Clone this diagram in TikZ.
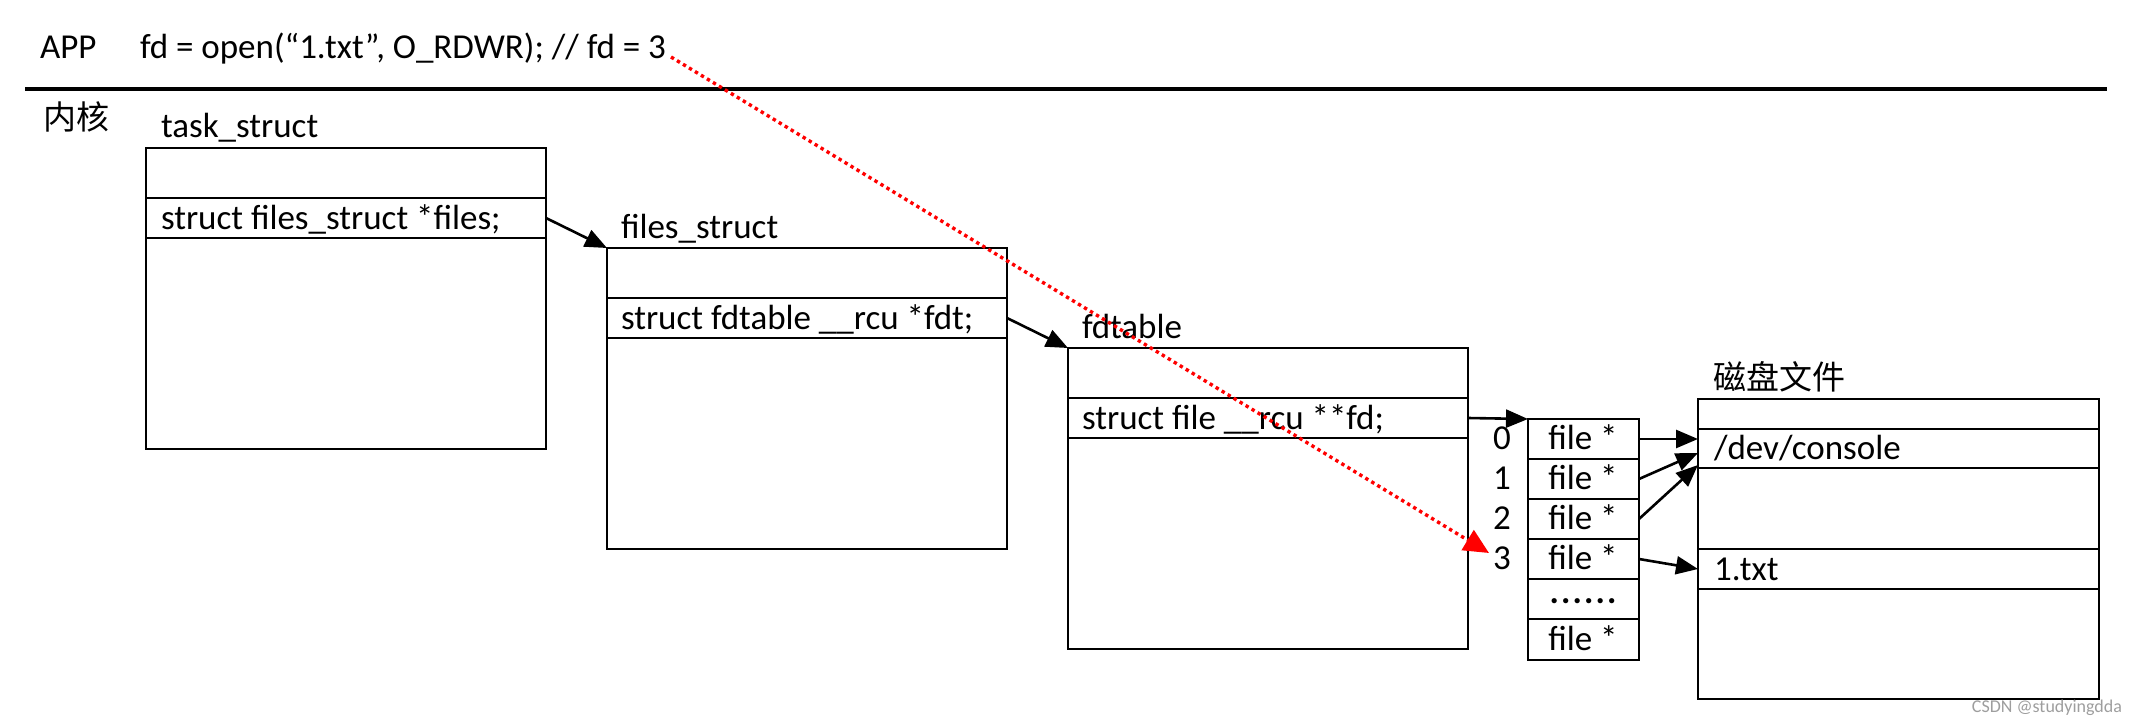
\documentclass[tikz,border=0pt]{standalone}
\usepackage{fontspec}
\setmainfont{Carlito}
\newfontfamily\cjk{Noto Sans CJK SC}
\usetikzlibrary{arrows.meta,calc}
\begin{document}
\begin{tikzpicture}[x=1pt,y=-1pt,
  every node/.style={inner sep=0pt,outer sep=0pt},
  cell/.style={draw=black,line width=2.6pt,rectangle,anchor=north west,minimum width=400pt},
  fcell/.style={draw=black,line width=2.6pt,rectangle,anchor=north west,minimum width=111pt,minimum height=40pt},
  txt/.style={font=\fontsize{35}{35}\selectfont,anchor=base west},
  ctxt/.style={font=\fontsize{35}{35}\selectfont,anchor=base},
  cjktxt/.style={font=\cjk\fontsize{33}{33}\selectfont,anchor=base west},
  link/.style={line width=2.6pt,-{Triangle[length=22pt,width=18pt]}},
  fdlink/.style={red,line width=3.4pt,dash pattern=on 3.4pt off 3.6pt,-{Triangle[length=25pt,width=23pt]}}
]
\useasboundingbox (0,0) rectangle (2137,725);

% APP line
\node[txt] (app) at (40,59) {APP};
\node[txt] (code) at (140,59) {fd = open(“1.txt”, O\_RDWR); // fd = 3};
\coordinate (sepL) at (25,89);
\coordinate (sepR) at (2107,89);
\draw[line width=3.2pt] (sepL) -- (sepR);
\node[cjktxt] (kernel) at (43,129) {内核};

% task_struct
\node[txt] (taskL) at (161,137) {task\_struct};
\node[cell,minimum height=50pt] (t1) at (146,148) {};
\node[cell,minimum height=40pt] (t2) at (146,198) {};
\node[cell,minimum height=211pt] (t3) at (146,238) {};
\node[txt] (t2txt) at (161,229) {struct files\_struct *files;};

% files_struct
\node[txt] (filesL) at (621,238) {files\_struct};
\node[cell,minimum height=50pt] (f1) at (607,248) {};
\node[cell,minimum height=40pt] (f2) at (607,298) {};
\node[cell,minimum height=211pt] (f3) at (607,338) {};
\node[txt] (f2txt) at (621,329) {struct fdtable \_\_rcu *fdt;};

% fdtable
\node[txt] (fdtL) at (1082,338) {fdtable};
\node[cell,minimum height=50pt] (d1) at (1068,348) {};
\node[cell,minimum height=40pt] (d2) at (1068,398) {};
\node[cell,minimum height=211pt] (d3) at (1068,438) {};
\node[txt] (d2txt) at (1082,429) {struct file \_\_rcu **fd;};

% file * array
\node[fcell] (a0) at (1528,419) {};
\node[fcell] (a1) at (1528,459) {};
\node[fcell] (a2) at (1528,499) {};
\node[fcell] (a3) at (1528,539) {};
\node[fcell] (a4) at (1528,579) {};
\node[fcell,minimum height=41pt] (a5) at (1528,619) {};
\node[ctxt] (a0t) at (1583,449) {file *};
\node[ctxt] (a1t) at (1583,489) {file *};
\node[ctxt] (a2t) at (1583,529) {file *};
\node[ctxt] (a3t) at (1583,569) {file *};
\node[ctxt,font=\bfseries\fontsize{35}{35}\selectfont] (a4t) at (1583,603) {\makebox[11.5pt]{.}\makebox[11.5pt]{.}\makebox[11.5pt]{.}\makebox[11.5pt]{.}\makebox[11.5pt]{.}\makebox[11.5pt]{.}};
\node[ctxt] (a5t) at (1583,650) {file *};
\node[txt] (i0) at (1493,449) {0};
\node[txt] (i1) at (1493,489) {1};
\node[txt] (i2) at (1493,529) {2};
\node[txt] (i3) at (1493,569) {3};

% disk file
\node[cjktxt] (diskL) at (1713,389) {磁盘文件};
\node[cell,minimum width=401pt,minimum height=30pt] (k1) at (1698,399) {};
\node[cell,minimum width=401pt,minimum height=39pt] (k2) at (1698,429) {};
\node[cell,minimum width=401pt,minimum height=81pt] (k3) at (1698,468) {};
\node[cell,minimum width=401pt,minimum height=40pt] (k4) at (1698,549) {};
\node[cell,minimum width=401pt,minimum height=110pt] (k5) at (1698,589) {};
\node[txt] (k2txt) at (1714,459) {/dev/console};
\node[txt] (k4txt) at (1714,580) {1.txt};

% watermark
\node[font=\fontsize{18}{18}\selectfont,text=black!38,anchor=base east] (wm) at (2122,712) {CSDN @studyingdda};

% connectors
\draw[link] (t2.east) -- (f1.north west);
\draw[link] (f2.east) -- (d1.north west);
\draw[link] (d2.east) -- (a0.north west);
\draw[link] (a0.east) -- ($(k2.north west)+(0,10)$);
\draw[link] (a1.east) -- ($(k2.north west)+(0,24)$);
\draw[link] (a2.east) -- ($(k2.north west)+(0,36)$);
\draw[link] (a3.east) -- (k4.west);

% red dotted fd arrow
\coordinate (fdS) at ($(code.base east)+(5,-2)$);
\coordinate (fdE) at ($(i3.base west)+(-4,-16)$);
\draw[fdlink] (fdS) -- (fdE);
\end{tikzpicture}
\end{document}
